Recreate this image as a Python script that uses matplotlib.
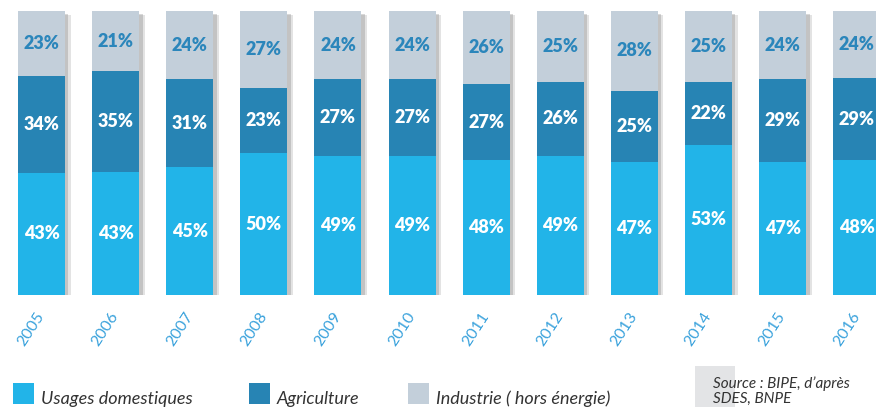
#!/usr/bin/env python3
"""Stacked 100% bars: water withdrawals by use, 2005-2016."""

import matplotlib
matplotlib.use("Agg")
import matplotlib.pyplot as plt
import matplotlib.patheffects as pe
import numpy as np

years = ["2005", "2006", "2007", "2008", "2009", "2010",
         "2011", "2012", "2013", "2014", "2015", "2016"]
domestique = [43, 43, 45, 50, 49, 49, 48, 49, 47, 53, 47, 48]
agriculture = [34, 35, 31, 23, 27, 27, 27, 26, 25, 22, 29, 29]
industrie = [23, 21, 24, 27, 24, 24, 26, 25, 28, 25, 24, 24]
series_names = ["Usages domestiques", "Agriculture", "Industrie ( hors énergie)"]
source_lines = ["Source : BIPE, d’après", "SDES, BNPE"]

COL_DOM = "#22b4e8"
COL_AGR = "#2784b4"
COL_IND = "#c3cfda"
COL_YEAR = "#3aa2dc"
COL_TXT = "#333333"

plt.rcParams["font.family"] = ["Lato", "DejaVu Sans"]

fig = plt.figure(figsize=(8.76, 4.07), dpi=100)
ax = fig.add_axes([0.0, 0.275, 1.0, 0.698])

x = np.arange(len(years))
values = np.array([domestique, agriculture, industrie], dtype=float)
totals = values.sum(axis=0)
shares = values / totals * 100.0  # each bar fills the full height
width = 0.634

# soft drop shadow behind each full bar
for off, a in [((4, -3), 0.18), ((2.5, -2), 0.25)]:
    sh = ax.bar(x, np.full(len(years), 100.0), width=width, color="white",
                linewidth=0, zorder=1)
    for b in sh:
        b.set_path_effects([pe.SimplePatchShadow(offset=off, shadow_rgbFace="#666666",
                                                 alpha=a), pe.Normal()])

bottom = np.zeros(len(years))
colors = [COL_DOM, COL_AGR, COL_IND]
text_colors = ["white", "white", "#2b86bb"]
for k in range(3):
    ax.bar(x, shares[k], bottom=bottom, width=width, color=colors[k],
           linewidth=0, zorder=2)
    for i in range(len(years)):
        ax.text(x[i], bottom[i] + shares[k][i] / 2, f"{int(values[k][i])}%",
                ha="center", va="center", color=text_colors[k],
                fontsize=13, fontweight="heavy", zorder=3)
    bottom += shares[k]

ax.set_xlim(-0.56, 11.26)
ax.set_ylim(0, 100)
for s in ax.spines.values():
    s.set_visible(False)
ax.set_yticks([])
ax.set_xticks(x)
ax.set_xticklabels(years, rotation=57, ha="right", va="center",
                   rotation_mode="anchor", color=COL_YEAR, fontsize=11.5)
ax.tick_params(axis="x", length=0, pad=13)

# legend row along the bottom edge
leg_x = [13, 249, 408]
for px, name, col in zip(leg_x, series_names, colors):
    fig.patches.append(plt.Rectangle((px / 876, 3 / 407), 21 / 876, 21 / 407,
                                     transform=fig.transFigure, color=col,
                                     linewidth=0))
    fig.text((px + 28) / 876, 3 / 407, name, fontsize=13, style="italic",
             color=COL_TXT, ha="left", va="baseline")

fig.patches.append(plt.Rectangle((695 / 876, 0), 40 / 876, 41 / 407,
                                 transform=fig.transFigure, color="#e3e4e6",
                                 linewidth=0))
fig.text(713 / 876, 19 / 407, source_lines[0], fontsize=11, style="italic",
         color=COL_TXT, ha="left", va="baseline")
fig.text(713 / 876, 4 / 407, source_lines[1], fontsize=11, style="italic",
         color=COL_TXT, ha="left", va="baseline")

fig.savefig("out.png", dpi=100)
